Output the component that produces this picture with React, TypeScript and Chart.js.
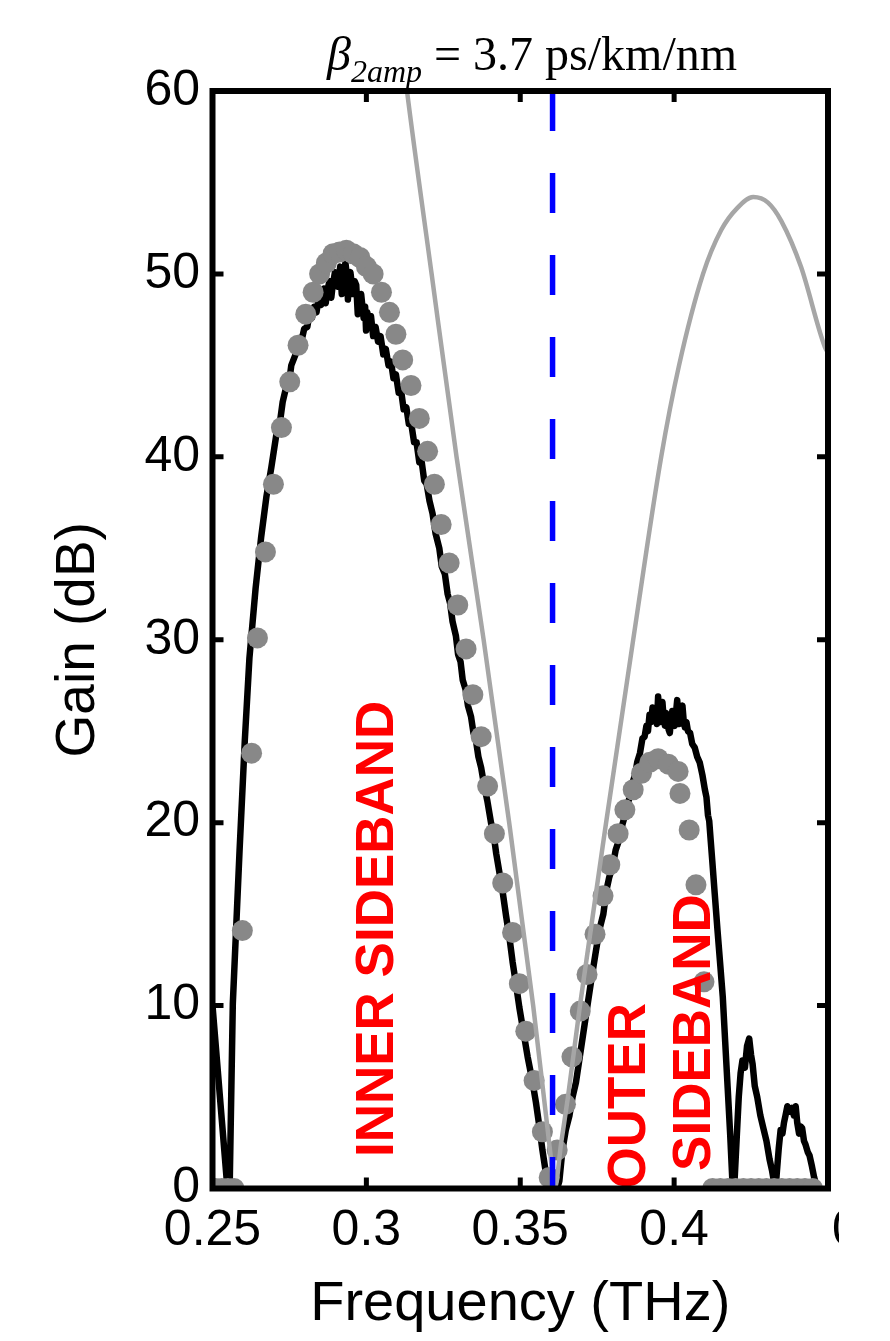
import React, { useEffect, useRef } from "react";
import { Chart, registerables } from "chart.js";

Chart.register(...registerables);

// ---------- data ----------
const xTicks = [0.25, 0.3, 0.35, 0.4, 0.45];
const xTickLabels = ["0.25", "0.3", "0.35", "0.4", ""];
const yTicks = [0, 10, 20, 30, 40, 50, 60];

// measured gain (black noisy line)
const measured: [number, number][] = [
  [0.25, 10.0], [0.253, 3.8], [0.2547, 0.3], [0.2556, 0.3], [0.2566, 10.1], [0.2588, 18.5],
  [0.2605, 24.5], [0.262, 29.0], [0.264, 32.8], [0.2658, 35.6], [0.2675, 37.8], [0.2691, 39.4],
  [0.271, 41.5], [0.272, 42.0], [0.2728, 43.0], [0.2742, 44.0], [0.275, 44.2], [0.2756, 45.0],
  [0.277, 45.6], [0.2782, 46.5], [0.279, 46.4], [0.2798, 47.0], [0.2808, 47.1], [0.2815, 47.8],
  [0.2823, 47.6], [0.283, 48.2], [0.2838, 47.9], [0.2845, 48.7], [0.2853, 48.3], [0.2862, 49.2],
  [0.2868, 48.4], [0.2872, 49.0], [0.288, 49.6], [0.2886, 48.7], [0.289, 49.3], [0.2898, 50.1],
  [0.2906, 49.3], [0.2915, 50.4], [0.292, 48.9], [0.2923, 49.8], [0.2932, 50.6], [0.2938, 49.7],
  [0.294, 48.6], [0.2944, 49.8], [0.2948, 50.1], [0.2957, 48.9], [0.2962, 49.6], [0.2967, 49.4],
  [0.2972, 47.8], [0.2975, 48.3], [0.2983, 48.9], [0.2991, 47.6], [0.2996, 48.2], [0.2999, 46.9],
  [0.3003, 47.9], [0.3008, 47.4], [0.3015, 47.7], [0.3022, 46.6], [0.303, 47.1], [0.3038, 46.3],
  [0.3046, 46.6], [0.3055, 45.6], [0.3063, 45.9], [0.3072, 45.0], [0.308, 45.2], [0.3088, 44.3],
  [0.3096, 44.5], [0.3105, 43.5], [0.3113, 43.6], [0.3121, 42.6], [0.313, 42.7], [0.3138, 41.8],
  [0.3146, 41.8], [0.3155, 40.8], [0.3163, 40.8], [0.3172, 39.7], [0.318, 39.7], [0.3188, 38.7],
  [0.3196, 38.5], [0.3205, 37.6], [0.3215, 36.9], [0.3225, 35.8], [0.3237, 35.0], [0.3245, 34.0],
  [0.3255, 33.6], [0.3264, 32.5], [0.3272, 32.0], [0.328, 31.0], [0.3291, 30.2], [0.3298, 29.2],
  [0.3306, 28.8], [0.3313, 27.8], [0.3322, 27.3], [0.333, 26.4], [0.334, 25.8], [0.3348, 24.9],
  [0.3356, 24.5], [0.3364, 23.6], [0.3373, 23.0], [0.3383, 22.0], [0.3393, 21.2], [0.3405, 20.0],
  [0.3413, 19.4], [0.3422, 18.3], [0.3432, 17.3], [0.3443, 16.2], [0.3454, 14.9], [0.3465, 13.7],
  [0.3475, 12.4], [0.3486, 11.2], [0.3497, 9.9], [0.351, 8.6], [0.3524, 7.2], [0.3538, 6.0],
  [0.3551, 4.7], [0.3562, 3.4], [0.3572, 2.1], [0.3582, 1.0], [0.3589, 0.3], [0.36, 0.0],
  [0.362, 0.0], [0.3627, 0.4], [0.3637, 2.1], [0.3648, 3.2], [0.366, 4.0], [0.367, 5.0],
  [0.3681, 5.8], [0.3697, 7.6], [0.3713, 9.4], [0.373, 11.3], [0.3746, 13.0], [0.3758, 14.2],
  [0.377, 15.0], [0.378, 16.3], [0.3789, 17.0], [0.38, 17.6], [0.381, 18.5], [0.3822, 19.1],
  [0.3832, 19.9], [0.3842, 20.5], [0.385, 21.1], [0.3858, 21.5], [0.3865, 22.2], [0.3873, 22.6],
  [0.388, 23.3], [0.3889, 23.8], [0.3897, 24.6], [0.3904, 24.7], [0.391, 25.3], [0.3915, 25.0],
  [0.392, 25.9], [0.3925, 25.5], [0.393, 26.3], [0.3935, 25.8], [0.394, 26.1], [0.3944, 25.4],
  [0.3948, 26.9], [0.3952, 26.0], [0.3955, 25.5], [0.3958, 26.2], [0.3962, 26.6], [0.3966, 25.7],
  [0.397, 25.3], [0.3974, 26.0], [0.3978, 25.8], [0.3982, 25.1], [0.3986, 24.9], [0.399, 25.6],
  [0.3994, 26.1], [0.3998, 25.4], [0.4002, 25.3], [0.4006, 26.0], [0.401, 26.7], [0.4014, 25.8],
  [0.4018, 25.4], [0.4022, 26.0], [0.4027, 26.4], [0.4031, 25.6], [0.4035, 25.2], [0.404, 25.5],
  [0.4045, 25.0], [0.4052, 24.9], [0.4059, 24.3], [0.4067, 24.1], [0.4075, 23.6], [0.4083, 23.3],
  [0.4092, 22.6], [0.41, 21.8], [0.4105, 21.4], [0.411, 20.4], [0.4114, 20.1], [0.4119, 19.0],
  [0.4124, 17.9], [0.4132, 16.1], [0.4141, 14.1], [0.415, 12.2], [0.4158, 10.5], [0.4166, 8.0],
  [0.4174, 5.5], [0.4182, 3.0], [0.4189, 0.5], [0.4196, 0.3], [0.421, 5.0], [0.4216, 6.3],
  [0.4222, 7.0], [0.423, 6.6], [0.4237, 7.8], [0.4244, 8.2], [0.425, 7.3], [0.4255, 6.8],
  [0.4262, 5.6], [0.427, 5.0], [0.428, 4.0], [0.429, 3.3], [0.43, 2.6], [0.431, 1.6],
  [0.4318, 1.0], [0.4325, 0.3], [0.4331, 0.3], [0.434, 2.2], [0.4346, 3.2], [0.4352, 3.0],
  [0.4357, 3.6], [0.4362, 4.0], [0.4368, 4.5], [0.4375, 4.2], [0.4383, 4.4], [0.4389, 4.0],
  [0.4395, 4.5], [0.44, 3.6], [0.4406, 3.0], [0.4411, 3.4], [0.4416, 3.3], [0.4422, 2.6],
  [0.4427, 2.4], [0.4434, 2.0], [0.444, 1.8], [0.4448, 1.2], [0.4455, 0.6], [0.4462, 0.2],
];

// simulated gain (grey dots)
const simulated: [number, number][] = [
  [0.251, 0], [0.253, 0], [0.255, 0], [0.257, 0],
  [0.2597, 14.1], [0.2627, 23.8], [0.2646, 30.1], [0.2672, 34.8], [0.2698, 38.5], [0.2724, 41.6],
  [0.2751, 44.1], [0.2778, 46.1], [0.2803, 47.8], [0.2827, 49.0], [0.2848, 50.0], [0.287, 50.6],
  [0.2892, 51.1], [0.2913, 51.2], [0.2935, 51.3], [0.2957, 51.1], [0.2979, 50.9], [0.3, 50.4],
  [0.3022, 50.0], [0.3049, 49.0], [0.3075, 47.9], [0.3096, 46.7], [0.3118, 45.3], [0.3145, 43.9],
  [0.3172, 42.1], [0.3199, 40.3], [0.3221, 38.5], [0.3243, 36.3], [0.3269, 34.2], [0.3297, 31.9],
  [0.3324, 29.5], [0.3346, 27.0], [0.3373, 24.7], [0.3394, 22.0], [0.3416, 19.4], [0.3443, 16.7],
  [0.3475, 14.0], [0.3497, 11.2], [0.3518, 8.6], [0.3545, 5.9], [0.3572, 3.1], [0.3594, 0.6],
  [0.362, 2.1], [0.3647, 4.6], [0.3668, 7.2], [0.3695, 9.7], [0.3717, 11.7], [0.3743, 13.9],
  [0.3769, 16.0], [0.3791, 17.7], [0.3818, 19.4], [0.384, 20.7], [0.3867, 21.8], [0.3894, 22.7],
  [0.3921, 23.3], [0.3948, 23.5], [0.3981, 23.2], [0.4013, 22.8], [0.4019, 21.6], [0.4049, 19.6],
  [0.4071, 16.6], [0.4097, 11.3],
  [0.4125, 0], [0.415, 0], [0.4175, 0], [0.42, 0], [0.4225, 0], [0.425, 0], [0.4275, 0],
  [0.43, 0], [0.4325, 0], [0.435, 0], [0.4375, 0], [0.44, 0], [0.4425, 0], [0.445, 0],
];

// theoretical curve (light grey line)
const theory: [number, number][] = [
  [0.3125, 61.0], [0.3132, 60.0], [0.3212, 50.0], [0.3293, 40.0], [0.3381, 30.0], [0.3464, 20.0],
  [0.3542, 10.0], [0.3596, 2.2], [0.3612, 0.0], [0.3633, 2.5], [0.3655, 5.0], [0.3694, 10.0],
  [0.3779, 20.0], [0.3867, 30.0], [0.3958, 40.0], [0.4016, 45.0], [0.4094, 50.0], [0.4153, 52.4],
  [0.4205, 53.6], [0.4257, 54.2], [0.4305, 53.9], [0.4348, 52.9], [0.4412, 50.4], [0.449, 46.0],
  [0.45, 45.7],
];

// pump marker (blue dashed line)
const pump: [number, number][] = [[0.3605, 60], [0.3605, 0]];

const sidebandLabels: { text: string; x: number; y: number }[] = [
  { text: "INNER SIDEBAND", x: 0.3087, y: 1.72 },
  { text: "OUTER", x: 0.3906, y: 0.0 },
  { text: "SIDEBAND", x: 0.4117, y: 0.96 },
];

const SANS = "'Liberation Sans', Arial, Helvetica, sans-serif";
const SERIF = "'Liberation Serif', 'Times New Roman', serif";

const toXY = (arr: [number, number][]) => arr.map(([x, y]) => ({ x, y }));

const decorPlugin = {
  id: "decor",
  afterDatasetsDraw(chart: any) {
    const { ctx, scales } = chart;
    const xs = scales.x;
    const ys = scales.y;
    ctx.save();
    ctx.font = `bold 53px ${SANS}`;
    ctx.fillStyle = "#ff0000";
    ctx.textAlign = "left";
    ctx.textBaseline = "alphabetic";
    for (const l of sidebandLabels) {
      const px = xs.getPixelForValue(l.x);
      const py = ys.getPixelForValue(l.y);
      ctx.save();
      ctx.translate(px, py);
      ctx.rotate(-Math.PI / 2);
      ctx.fillText(l.text, 0, 0);
      ctx.restore();
    }
    ctx.restore();
  },
  afterDraw(chart: any) {
    const { ctx, chartArea: ca, scales } = chart;
    const xs = scales.x;
    const ys = scales.y;
    ctx.save();
    // frame
    ctx.strokeStyle = "#000";
    ctx.lineWidth = 6;
    ctx.lineJoin = "miter";
    ctx.strokeRect(ca.left, ca.top, ca.right - ca.left, ca.bottom - ca.top);
    // inward ticks
    ctx.lineWidth = 5;
    const tl = 11;
    ctx.beginPath();
    for (const v of xTicks) {
      const px = xs.getPixelForValue(v);
      if (px <= ca.left + 1 || px >= ca.right - 1) continue;
      ctx.moveTo(px, ca.bottom);
      ctx.lineTo(px, ca.bottom - tl);
      ctx.moveTo(px, ca.top);
      ctx.lineTo(px, ca.top + tl);
    }
    for (const v of yTicks) {
      const py = ys.getPixelForValue(v);
      if (py <= ca.top + 1 || py >= ca.bottom - 1) continue;
      ctx.moveTo(ca.left, py);
      ctx.lineTo(ca.left + tl, py);
      ctx.moveTo(ca.right, py);
      ctx.lineTo(ca.right - tl, py);
    }
    ctx.stroke();

    // title: beta_2amp = 3.7 ps/km/nm
    ctx.fillStyle = "#000";
    ctx.textAlign = "left";
    ctx.textBaseline = "alphabetic";
    const base = ca.top - 21;
    let x = ca.left + 114.5;
    ctx.font = `italic 48px ${SERIF}`;
    ctx.fillText("\u03B2", x, base);
    x += ctx.measureText("\u03B2").width;
    ctx.font = `italic 32px ${SERIF}`;
    ctx.fillText("2amp", x, base + 11.5);
    x += ctx.measureText("2amp").width;
    ctx.font = `48px ${SERIF}`;
    ctx.fillText(" = 3.7 ps/km/nm", x, base);

    // clipped tick label at the right edge
    ctx.save();
    ctx.beginPath();
    ctx.rect(ca.right, ca.bottom + 10, 11, 80);
    ctx.clip();
    ctx.font = `50px ${SANS}`;
    ctx.textBaseline = "middle";
    ctx.fillText("0.45", ca.right + 4, ca.bottom + 12.5 + 30);
    ctx.restore();

    ctx.restore();
  },
};

export default function App() {
  const ref = useRef<HTMLCanvasElement | null>(null);

  useEffect(() => {
    if (!ref.current) return;
    const tickFont = { family: SANS, size: 50 };
    const chart = new Chart(ref.current, {
      type: "scatter",
      data: {
        datasets: [
          {
            label: "pump",
            data: toXY(pump),
            showLine: true,
            borderColor: "#0000ff",
            borderWidth: 5.5,
            borderDash: [40, 42],
            pointRadius: 0,
            order: 0,
            clip: 0,
          } as any,
          {
            label: "theory",
            data: toXY(theory),
            showLine: true,
            borderColor: "#a6a6a6",
            borderWidth: 4.5,
            pointRadius: 0,
            cubicInterpolationMode: "monotone",
            order: 1,
            clip: 0,
          } as any,
          {
            label: "simulation",
            data: toXY(simulated),
            showLine: false,
            pointRadius: 10.5,
            pointBackgroundColor: "#888888",
            pointBorderWidth: 0,
            pointBorderColor: "#888888",
            order: 2,
            clip: 0,
          } as any,
          {
            label: "measured",
            data: toXY(measured),
            showLine: true,
            borderColor: "#000000",
            borderWidth: 6.5,
            borderJoinStyle: "round",
            pointRadius: 0,
            order: 3,
            clip: 0,
          } as any,
        ],
      },
      options: {
        responsive: false,
        animation: false,
        devicePixelRatio: 1,
        layout: { padding: { top: 83, right: 54, left: 0, bottom: 0 } },
        plugins: {
          legend: { display: false },
          tooltip: { enabled: false },
          title: { display: false },
        },
        events: [],
        scales: {
          x: {
            type: "linear",
            min: 0.25,
            max: 0.45,
            afterBuildTicks: (s: any) => {
              s.ticks = xTicks.map((v) => ({ value: v }));
            },
            afterFit: (s: any) => {
              s.height = 144.5;
            },
            grid: { display: false, drawTicks: false },
            border: { display: false },
            ticks: {
              font: tickFont,
              color: "#000",
              padding: 12.5,
              maxRotation: 0,
              minRotation: 0,
              autoSkip: false,
              callback: (_v: any, i: number) => xTickLabels[i] ?? "",
            },
            title: {
              display: true,
              text: "Frequency (THz)",
              color: "#000",
              font: { family: SANS, size: 56, lineHeight: 0.8 },
              padding: { top: 0, bottom: 6 },
            },
          },
          y: {
            type: "linear",
            min: 0,
            max: 60,
            afterBuildTicks: (s: any) => {
              s.ticks = yTicks.map((v) => ({ value: v }));
            },
            afterFit: (s: any) => {
              s.width = 204.5;
            },
            grid: { display: false, drawTicks: false },
            border: { display: false },
            ticks: {
              font: tickFont,
              color: "#000",
              padding: 12.5,
              autoSkip: false,
              callback: (v: any) => String(v),
            },
            title: {
              display: true,
              text: "Gain (dB)",
              color: "#000",
              font: { family: SANS, size: 55, lineHeight: 1.2 },
              padding: { top: 38, bottom: 0 },
            },
          },
        },
      },
      plugins: [decorPlugin],
    } as any);
    return () => chart.destroy();
  }, []);

  return (
    <canvas
      ref={ref}
      width={874}
      height={1325}
      style={{ display: "block", width: 874, height: 1325 }}
    />
  );
}
